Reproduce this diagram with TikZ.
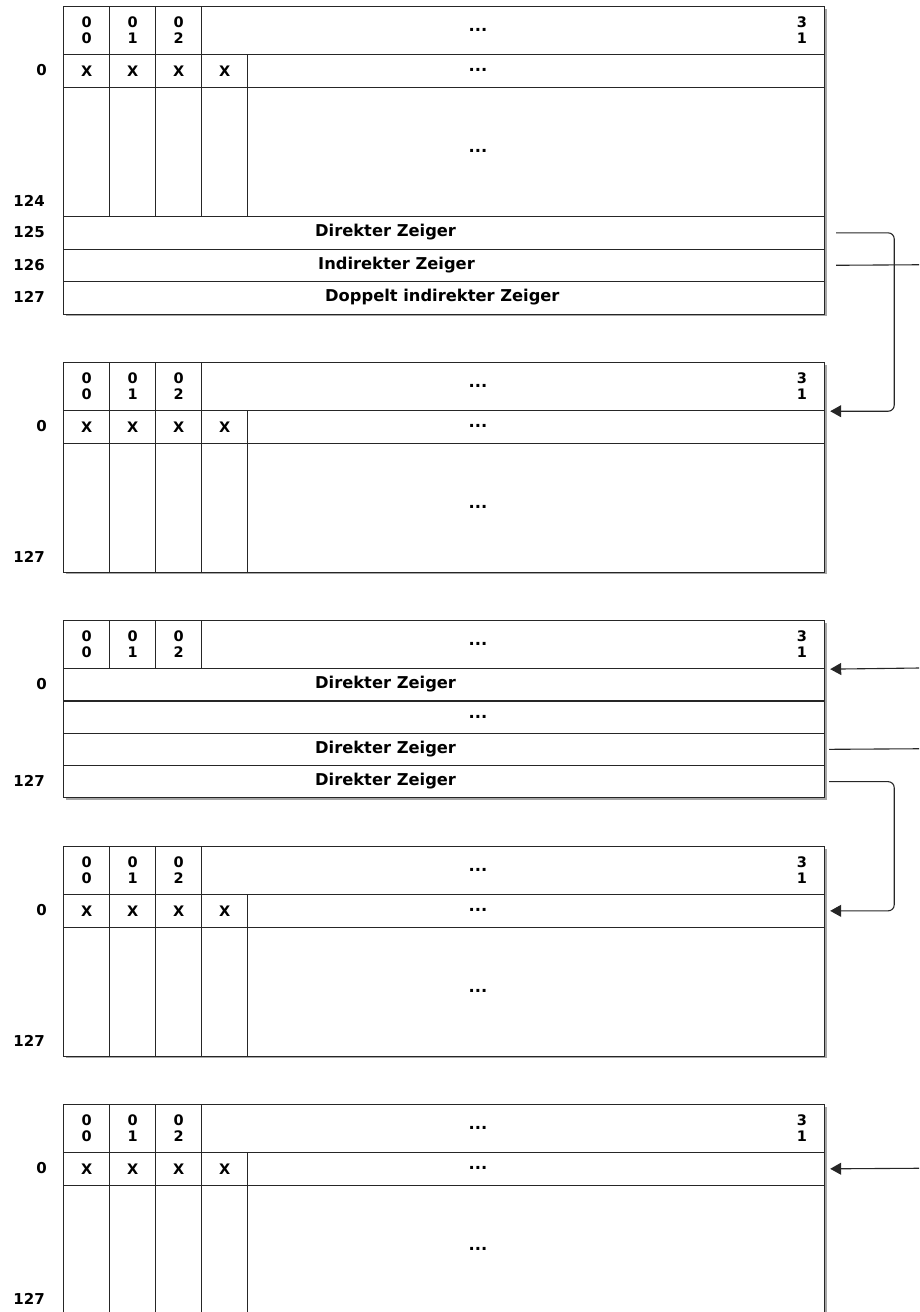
\documentclass[tikz,border=0pt]{standalone}
\usepackage{fontspec}
\setmainfont{DejaVu Sans}
\usetikzlibrary{arrows.meta}

\begin{document}
\begin{tikzpicture}[
    x=1pt, y=-1pt,
    cell/.style={rectangle, draw=black!85, fill=white, line width=1.2pt, inner sep=0pt, anchor=north west, align=center, font=\fontsize{14.5}{16}\selectfont\bfseries},
    narrow/.style={cell, minimum width=46pt},
    rowlabel/.style={anchor=east, inner sep=0pt, font=\fontsize{15}{18}\selectfont\bfseries},
    entry/.style={inner sep=0pt, font=\fontsize{16.3}{18}\selectfont\bfseries},
    boxshadow/.style={fill=black!35},
    ptr/.style={line width=1.1pt, draw=black!85, rounded corners=6pt},
    pointsto/.style={-{Triangle[length=11pt, width=12pt]}},
  ]
    \useasboundingbox (0,0) rectangle (919,1312);

    % Headers (bit numbers) of all five blocks
    \foreach \blk/\ytop/\ybot in {1/6/313.5, 2/362/571, 3/620/797.2, 4/846/1055, 5/1104/1314} {
        \fill[boxshadow] (65.5,\ytop+2.5) rectangle (826.5,\ybot+2.5);
        \node[narrow, minimum height=48pt] (h\blk a) at (63,\ytop) {0\\0};
        \node[narrow, minimum height=48pt] (h\blk b) at (109,\ytop) {0\\1};
        \node[narrow, minimum height=48pt] (h\blk c) at (155,\ytop) {0\\2};
        \node[cell, minimum width=623pt, minimum height=48pt] (h\blk w) at (201,\ytop) {};
        \node[entry] (h\blk dots) at (478,\ytop+24) {...};
        \node[cell, draw=none, fill=none, anchor=center] (h\blk end) at (802,\ytop+24) {3\\1};
    }

    % Data blocks
    \foreach \blk/\ytop/\last in {1/6/124, 2/362/127, 4/846/127, 5/1104/127} {
        \foreach \col/\xx in {a/63, b/109, c/155, d/201}
            \node[narrow, minimum height=32.5pt] (x\blk\col) at (\xx,\ytop+48) {X};
        \node[cell, minimum width=577pt, minimum height=32.5pt] (x\blk w) at (247,\ytop+48) {};
        \node[entry] (x\blk dots) at (478,\ytop+64.25) {...};
        \foreach \col/\xx in {a/63, b/109, c/155, d/201}
            \node[narrow, minimum height=129pt] (c\blk\col) at (\xx,\ytop+80.5) {};
        \node[cell, minimum width=577pt, minimum height=129pt] (c\blk w) at (247,\ytop+80.5) {};
        \node[entry] (c\blk dots) at (478,\ytop+145) {...};
        \node[rowlabel] (l\blk first) at (47,\ytop+64.25) {0};
        \node[rowlabel] (l\blk last) at (45,\ytop+194.5) {\last};
    }

    % Pointers of block 1
    \node[cell, minimum width=761pt, minimum height=32.5pt] (d125) at (63,216) {};
    \node[cell, minimum width=761pt, minimum height=32.5pt] (d126) at (63,248.5) {};
    \node[cell, minimum width=761pt, minimum height=32.5pt] (d127) at (63,281) {};
    \node[entry, anchor=west] (t125) at (315,232.25) {Direkter Zeiger};
    \node[entry, anchor=west] (t126) at (318,264.75) {Indirekter Zeiger};
    \node[entry, anchor=west] (t127) at (325,297.25) {Doppelt indirekter Zeiger};
    \node[rowlabel] (l125) at (45,232.25) {125};
    \node[rowlabel] (l126) at (45,264.75) {126};
    \node[rowlabel] (l127) at (45,297.25) {127};

    % Pointer block 3
    \node[cell, minimum width=761pt, minimum height=32.3pt] (p3a) at (63,668) {};
    \node[cell, minimum width=761pt, minimum height=32.3pt] (p3b) at (63,700.3) {};
    \node[cell, minimum width=761pt, minimum height=32.3pt] (p3c) at (63,732.6) {};
    \node[cell, minimum width=761pt, minimum height=32.3pt] (p3d) at (63,764.9) {};
    \node[entry, anchor=west] (t3a) at (315,684.15) {Direkter Zeiger};
    \node[entry] (t3b) at (478,716.45) {...};
    \node[entry, anchor=west] (t3c) at (315,748.75) {Direkter Zeiger};
    \node[entry, anchor=west] (t3d) at (315,781.05) {Direkter Zeiger};
    \node[rowlabel] (l3first) at (47,684.15) {0};
    \node[rowlabel] (l3last) at (45,781.05) {127};

    % Connectors
    \coordinate (out126) at (919,264.75);
    \coordinate (in3) at (919,668);
    \coordinate (out3) at (919,748.75);
    \coordinate (in5) at (919,1168.25);
    \draw[ptr, pointsto, shorten <=11pt, shorten >=5pt] (d125.east) -- ++(69,0) |- (h2w.south east);
    \draw[ptr, shorten <=11pt] (d126.east) -- (out126);
    \draw[ptr, pointsto, shorten >=5pt] (in3) -- (h3w.south east);
    \draw[ptr, shorten <=4pt] (p3c.east) -- (out3);
    \draw[ptr, pointsto, shorten <=4pt, shorten >=5pt] (p3d.east) -- ++(69,0) |- (x4w.east);
    \draw[ptr, pointsto, shorten >=5pt] (in5) -- (x5w.east);

\end{tikzpicture}
\end{document}
